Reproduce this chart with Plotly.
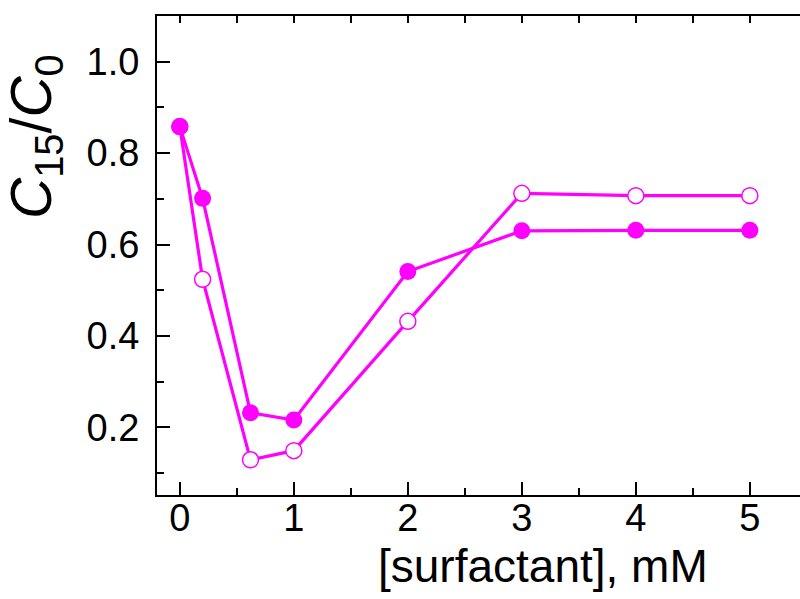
import plotly.graph_objects as go

# Data
conc = [0, 0.2, 0.62, 1, 2, 3, 4, 5]
filled_vals = [0.858, 0.701, 0.232, 0.216, 0.541, 0.630, 0.631, 0.631]
open_vals = [0.858, 0.524, 0.129, 0.149, 0.432, 0.712, 0.707, 0.707]
x_ticks = [0, 1, 2, 3, 4, 5]
y_ticks = [0.2, 0.4, 0.6, 0.8, 1.0]
y_tick_text = ["0.2", "0.4", "0.6", "0.8", "1.0"]

MAG = "#FF00FF"
FONT = "Liberation Sans, Arial, sans-serif"

fig = go.Figure()
fig.add_trace(go.Scatter(
    x=conc, y=open_vals, mode="lines+markers",
    line=dict(color=MAG, width=3.2),
    marker=dict(symbol="circle", size=16, color="white", line=dict(color=MAG, width=1.5)),
    showlegend=False,
))
fig.add_trace(go.Scatter(
    x=conc, y=filled_vals, mode="lines+markers",
    line=dict(color=MAG, width=3.2),
    marker=dict(symbol="circle", size=17, color=MAG, line=dict(width=0)),
    showlegend=False,
))
# invisible trace to create the top axis
fig.add_trace(go.Scatter(x=[conc[0]], y=[filled_vals[0]], xaxis="x2", mode="markers",
                         marker=dict(opacity=0), showlegend=False, hoverinfo="skip"))

fig.update_layout(
    width=800, height=599,
    margin=dict(l=157, r=0, t=16, b=104),
    paper_bgcolor="white", plot_bgcolor="white",
    font=dict(family=FONT, color="black"),
    xaxis=dict(
        range=[-0.2, 5.44], showgrid=False, zeroline=False,
        showline=True, linecolor="black", linewidth=2,
        tickmode="array", tickvals=x_ticks,
        ticks="inside", ticklen=13, tickwidth=2, tickcolor="black",
        minor=dict(dtick=0.5, ticks="inside", ticklen=7, tickwidth=2, tickcolor="black"),
        tickfont=dict(size=38, family=FONT), ticklabelstandoff=-12,
    ),
    xaxis2=dict(
        overlaying="x", side="top", matches="x", anchor="y",
        showgrid=False, zeroline=False, showline=True, linecolor="black", linewidth=2,
        tickmode="linear", tick0=0, dtick=0.5,
        ticks="inside", ticklen=7, tickwidth=2, tickcolor="black",
        showticklabels=False,
    ),
    yaxis=dict(
        range=[0.052, 1.1], showgrid=False, zeroline=False,
        showline=True, linecolor="black", linewidth=2,
        tickmode="array", tickvals=y_ticks, ticktext=y_tick_text,
        ticks="inside", ticklen=13, tickwidth=2, tickcolor="black",
        minor=dict(tickmode="array", tickvals=[0.1, 0.3, 0.5, 0.7, 0.9],
                   ticks="inside", ticklen=7, tickwidth=2, tickcolor="black"),
        tickfont=dict(size=38, family=FONT), ticklabelstandoff=8,
    ),
    annotations=[
        dict(text="[surfactant], mM", xref="paper", yref="paper",
             x=(543 - 157) / 643, y=-(566 - 495) / 479, xanchor="center", yanchor="middle",
             showarrow=False, font=dict(size=46, family=FONT)),
        dict(text="<i>C</i><sub>15</sub>/<i>C</i><sub>0</sub>", xref="paper", yref="paper",
             x=-(157 - 35) / 643, y=(495 - 137) / 479, xanchor="center", yanchor="middle",
             textangle=-90, showarrow=False, font=dict(size=57, family=FONT)),
    ],
)

fig.write_html("out.html", config={"displayModeBar": False},
               post_script="document.body.style.margin='0';document.body.style.overflow='hidden';")
